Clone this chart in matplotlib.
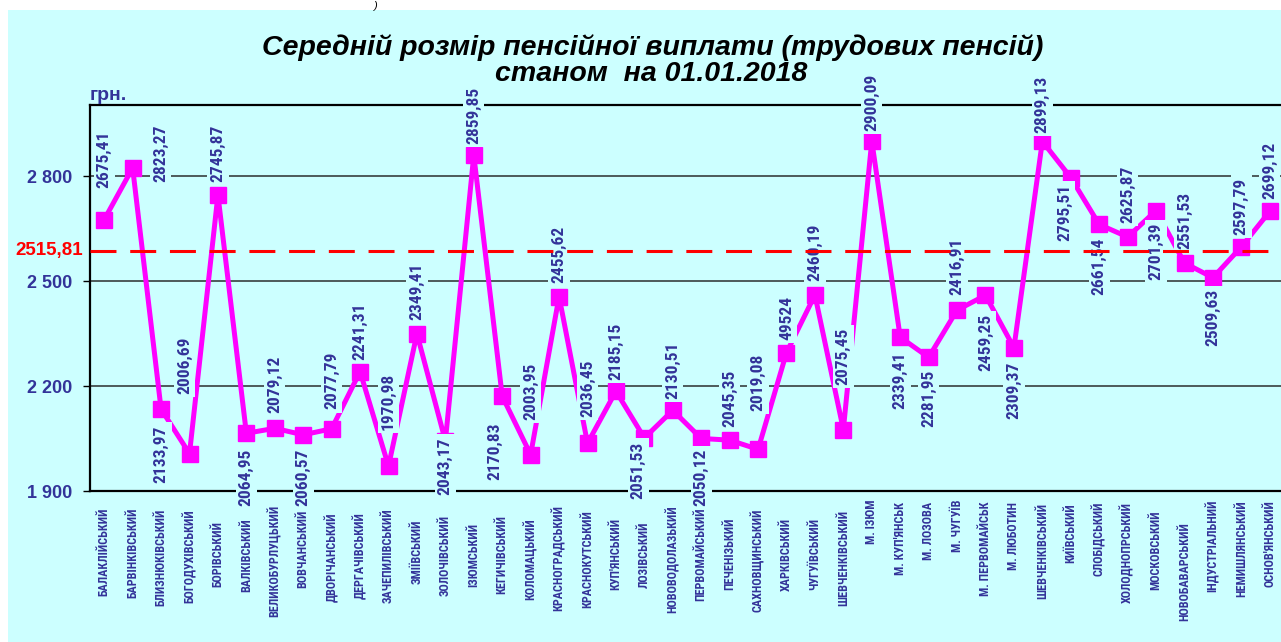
import matplotlib.pyplot as plt
import matplotlib.transforms as mtransforms

# data
districts = ["БАЛАКЛІЙСЬКИЙ", "БАРВІНКІВСЬКИЙ", "БЛИЗНЮКІВСЬКИЙ", "БОГОДУХІВСЬКИЙ",
             "БОРІВСЬКИЙ", "ВАЛКІВСЬКИЙ", "ВЕЛИКОБУРЛУЦЬКИЙ", "ВОВЧАНСЬКИЙ",
             "ДВОРІЧАНСЬКИЙ", "ДЕРГАЧІВСЬКИЙ", "ЗАЧЕПИЛІВСЬКИЙ", "ЗМІЇВСЬКИЙ",
             "ЗОЛОЧІВСЬКИЙ", "ІЗЮМСЬКИЙ", "КЕГИЧІВСЬКИЙ", "КОЛОМАЦЬКИЙ",
             "КРАСНОГРАДСЬКИЙ", "КРАСНОКУТСЬКИЙ", "КУП'ЯНСЬКИЙ", "ЛОЗІВСЬКИЙ",
             "НОВОВОДОЛАЗЬКИЙ", "ПЕРВОМАЙСЬКИЙ", "ПЕЧЕНІЗЬКИЙ", "САХНОВЩИНСЬКИЙ",
             "ХАРКІВСЬКИЙ", "ЧУГУЇВСЬКИЙ", "ШЕВЧЕНКІВСЬКИЙ", "М. ІЗЮМ",
             "М. КУП'ЯНСЬК", "М. ЛОЗОВА", "М. ЧУГУЇВ", "М. ПЕРВОМАЙСЬК",
             "М. ЛЮБОТИН", "ШЕВЧЕНКІВСЬКИЙ", "КИЇВСЬКИЙ", "СЛОБІДСЬКИЙ",
             "ХОЛОДНОПРСЬКИЙ", "МОСКОВСЬКИЙ", "НОВОБАВАРСЬКИЙ", "ІНДУСТРІАЛЬНИЙ",
             "НЕМИШЛЯНСЬКИЙ", "ОСНОВ'ЯНСЬКИЙ"]

pension = [2675.41, 2823.27, 2133.97, 2006.69, 2745.87, 2064.95, 2079.12, 2060.57,
           2077.79, 2241.31, 1970.98, 2349.41, 2043.17, 2859.85, 2170.83, 2003.95,
           2455.62, 2036.45, 2185.15, 2051.53, 2130.51, 2050.12, 2045.35, 2019.08,
           2295.24, 2460.19, 2075.45, 2900.09, 2339.41, 2281.95, 2416.91, 2459.25,
           2309.37, 2899.13, 2795.51, 2661.54, 2625.87, 2701.39, 2551.53, 2509.63,
           2597.79, 2699.12]

# the label texts as printed (one of them is cut in the original)
value_labels = [f"{v:.2f}".replace(".", ",") for v in pension]
value_labels[24] = "49524"

average = 2515.81
y_ticks = [1900, 2200, 2500, 2800]

# in the original the average line is drawn by hand, above its own value
avg_line_level = 2587

# label placement, pixels relative to the point (image y goes down)
label_dx = [0, 28, 0, -5, 0, 0, 0, 0, 0, 0, 0, 0, 0, 0, -7, 0, 0, 0, 0, -6, 0,
            0, 0, 0, 0, 0, 0, 0, 0, 0, 0, 0, 0, 0, -6, 0, 0, 0, 0, 0, 0, 0]
label_dy = [-60, -15, 45, -88, -42, 44, -44, 43, -48, -40, -65, -42, 25, -40, 55,
            -63, -42, -55, -40, 32, -40, 39, -42, -67, -35, -43, -73, -39, 43, 41,
            -44, 47, 43, -37, 35, 42, -43, 41, -43, 40, -40, -41]
# top edge (image pixels) of each category label
tick_top = [508, 508, 509, 509, 521, 518, 505, 510, 512, 512, 508, 520, 515, 523,
            515, 518, 505, 510, 518, 522, 505, 507, 518, 508, 518, 518, 510, 500,
            502, 502, 500, 502, 502, 503, 503, 502, 502, 510, 522, 500, 500, 500]

bg = "#ccffff"
navy = "#333399"
narrow = ["Roboto Condensed", "DejaVu Sans"]
plt.rcParams["font.family"] = ["Liberation Sans", "DejaVu Sans"]

W, H = 1281, 642
fig = plt.figure(figsize=(W / 100, H / 100), dpi=100)
fig.patch.set_facecolor("white")
fig.patches.append(plt.Rectangle((8 / W, 0), 1, 1 - 10 / H, transform=fig.transFigure,
                                 facecolor=bg, edgecolor="none", zorder=-10))

ax = fig.add_axes([90 / W, (H - 491) / H, 1194 / W, 386 / H])
ax.set_facecolor(bg)
x = list(range(len(districts)))
ax.set_xlim(-0.5, len(districts) - 0.5)
ax.set_ylim(1900, 3003)

for v in y_ticks[1:]:
    ax.axhline(v, color="#4d5a5a", lw=1.4, zorder=1)

ax.plot(x, pension, color="#ff00ff", lw=3.6, marker="s", markersize=11.5,
        markeredgecolor="#ff00ff", zorder=2, clip_on=False)

for i, v in enumerate(pension):
    ax.annotate(value_labels[i], (i, v), xytext=(label_dx[i], -label_dy[i]),
                textcoords="offset pixels", rotation=90, ha="center", va="center",
                fontsize=12.5, fontweight="bold", color=navy, family=narrow,
                bbox=dict(boxstyle="square,pad=0.18", fc=bg, ec="none"), zorder=3)

ax.axhline(avg_line_level, color="#ff0000", lw=2.2, dashes=(8.5, 4.5), zorder=4)

trans = mtransforms.blended_transform_factory(ax.transData, fig.transFigure)
for i, name in enumerate(districts):
    ax.text(i, 1 - tick_top[i] / H, name, transform=trans, rotation=90,
            ha="center", va="top", fontsize=8.7, fontweight="bold", color=navy,
            family=narrow)

ax.set_xticks([])
ax.set_yticks(y_ticks)
ax.set_yticklabels([f"{v:,}".replace(",", " ") for v in y_ticks], fontsize=13,
                   fontweight="bold", color=navy)
ax.tick_params(axis="y", length=5, width=1, pad=8, color="black")
for side in ["left", "bottom", "top"]:
    ax.spines[side].set_color("black")
    ax.spines[side].set_linewidth(1.6)
ax.spines["right"].set_visible(False)

ytrans = mtransforms.blended_transform_factory(fig.transFigure, ax.transData)
ax.text(83 / W, avg_line_level, "2515,81", transform=ytrans, ha="right", va="center",
        fontsize=13.5, fontweight="bold", color="#ff0000")
fig.text(90 / W, 1 - 96 / H, "грн.", ha="left", va="center", fontsize=14,
         fontweight="bold", color=navy)

fig.text(653 / W, 1 - 48 / H, "Середній розмір пенсійної виплати (трудових пенсій)",
         ha="center", va="center", fontsize=20.5, fontweight="bold", style="italic")
fig.text(651 / W, 1 - 74 / H, "станом  на 01.01.2018", ha="center", va="center",
         fontsize=20.5, fontweight="bold", style="italic")
fig.text(375 / W, 1 - 6 / H, ")", ha="center", va="center", fontsize=8, style="italic")

fig.savefig("out.png", dpi=100, facecolor=fig.get_facecolor())
